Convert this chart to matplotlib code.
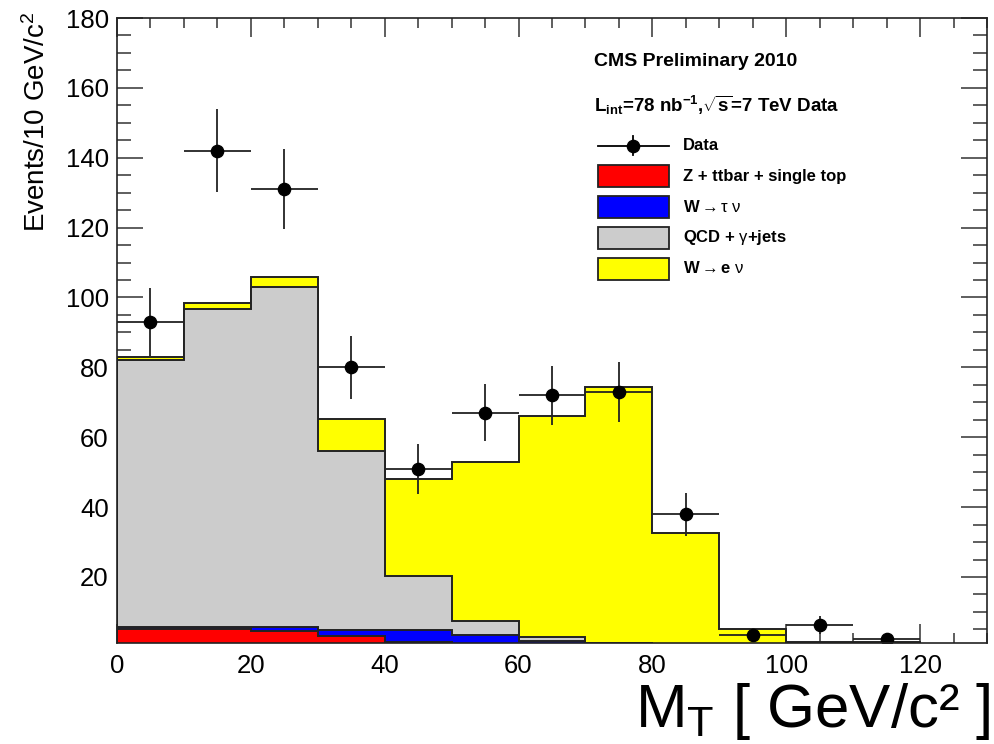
import numpy as np
import matplotlib
matplotlib.use("Agg")
import matplotlib.pyplot as plt
from matplotlib.patches import Rectangle
from matplotlib.lines import Line2D
from matplotlib.ticker import MultipleLocator

plt.rcParams['font.family'] = ['Liberation Sans', 'DejaVu Sans']
plt.rcParams['mathtext.fontset'] = 'custom'
plt.rcParams['mathtext.rm'] = 'Liberation Sans'
plt.rcParams['mathtext.it'] = 'Liberation Sans:italic'
plt.rcParams['mathtext.bf'] = 'Liberation Sans:bold'
plt.rcParams['mathtext.sf'] = 'Liberation Sans'

# ---------------- data ----------------
bin_edges = [0, 10, 20, 30, 40, 50, 60, 70, 80, 90, 100, 110, 120, 130]

# stacked MC components (per bin, not cumulative)
z_ttbar_top = [5.1, 5.1, 4.5, 3.1, 1.5, 0.6, 0.3, 0.1, 0.0, 0.0, 0.0, 0.0, 0.0]
w_taunu     = [0.7, 0.7, 1.1, 1.7, 3.3, 2.8, 1.4, 0.7, 0.2, 0.0, 0.0, 0.0, 0.0]
qcd_gjets   = [76.4, 91.0, 97.4, 51.4, 15.5, 4.1, 1.2, 0.2, 0.2, 0.1, 0.0, 0.0, 0.0]
w_enu       = [0.9, 1.5, 3.0, 9.1, 27.8, 45.5, 63.1, 73.5, 32.3, 4.9, 1.35, 1.45, 0.0]

data_x = [5, 15, 25, 35, 45, 55, 65, 75, 85, 95, 105, 115]
data_y = [93, 142, 131, 80, 51, 67, 72, 73, 38, 3.5, 6.3, 2.2]

x_ticks = [0, 20, 40, 60, 80, 100, 120]
y_ticks = [20, 40, 60, 80, 100, 120, 140, 160, 180]

# ---------------- figure ----------------
W, H = 995, 744
fig = plt.figure(figsize=(W / 100, H / 100), dpi=100)
fig.patch.set_facecolor('white')

def fx(px):
    return px / W

def fy(py):
    return 1 - py / H

ax = fig.add_axes([fx(117), fy(643), (987 - 117) / W, (643 - 18) / H])

edges = np.array(bin_edges, dtype=float)
c1 = np.array(z_ttbar_top)
c2 = c1 + np.array(w_taunu)
c3 = c2 + np.array(qcd_gjets)
c4 = c3 + np.array(w_enu)

col_red, col_blue, col_grey, col_yel = '#ff0000', '#0000ff', '#cccccc', '#ffff00'
edge_col = '#222222'
lw_h = 1.4
for cum, col in [(c4, col_yel), (c3, col_grey), (c2, col_blue), (c1, col_red)]:
    ax.stairs(cum, edges, baseline=0, fill=True, facecolor=col,
              edgecolor=edge_col, linewidth=lw_h, zorder=2)

dx = np.array(data_x, dtype=float)
dy = np.array(data_y, dtype=float)
xerr = np.diff(edges)[:len(dx)] / 2
ax.errorbar(dx, dy, xerr=xerr, yerr=np.sqrt(dy), fmt='o', color='black',
            ms=8.8, ecolor='#222222', elinewidth=1.3, capsize=0, zorder=5)

ax.set_xlim(0, 130)
ax.set_ylim(1.1, 180)
ax.set_xticks(x_ticks)
ax.set_yticks(y_ticks)
ax.xaxis.set_minor_locator(MultipleLocator(5))
ax.yaxis.set_minor_locator(MultipleLocator(5))
ax.tick_params(axis='both', which='both', direction='in', top=True, right=True,
               color='#333333', width=1.1, labelsize=18.5, labelcolor='black')
ax.tick_params(axis='x', which='major', length=13.5, pad=8)
ax.tick_params(axis='x', which='minor', length=7)
ax.tick_params(axis='y', which='major', length=18.5, pad=6)
ax.tick_params(axis='y', which='minor', length=10)
for sp in ax.spines.values():
    sp.set_linewidth(1.2)
    sp.set_color('#222222')
    sp.set_zorder(6)

# axis titles
fig.text(fx(37), fy(12), 'Events/10 GeV/c$^{2}$', rotation=90, ha='center',
         va='top', fontsize=20)
fig.text(fx(991), fy(727), 'M$_{\\mathrm{T}}$ [ GeV/c² ]', ha='right',
         va='baseline', fontsize=44.5)

# legend / annotations
fig.text(fx(594), fy(61), 'CMS Preliminary 2010', ha='left', va='center',
         fontsize=14, fontweight='bold')
fig.text(fx(594), fy(105),
         'L$_{\\mathbf{int}}$=78 nb$^{\\mathbf{-1}}$,$\\sqrt{\\mathbf{s}}$=7 TeV Data',
         ha='left', va='center', fontsize=13.5, fontweight='bold')

# Data entry
yd = 146
fig.add_artist(Line2D([fx(598), fx(669)], [fy(yd), fy(yd)], color='black', lw=1.3,
                      transform=fig.transFigure))
fig.add_artist(Line2D([fx(633), fx(633)], [fy(yd - 10), fy(yd + 9)], color='black', lw=1.3,
                      transform=fig.transFigure))
fig.add_artist(Line2D([fx(633)], [fy(yd)], marker='o', ms=8.8, color='black',
                      transform=fig.transFigure))
fig.text(fx(683), fy(yd), 'Data', ha='left', va='center', fontsize=12,
         fontweight='bold')

entries = [
    (176, col_red, 'Z + ttbar + single top'),
    (206.5, col_blue, 'W$\\rightarrow\\mathrm{\\tau}\\;\\mathrm{\\nu}$'),
    (237.5, col_grey, 'QCD + $\\mathrm{\\gamma}$+jets'),
    (268.5, col_yel, 'W$\\rightarrow$e $\\mathrm{\\nu}$'),
]
for yc, col, lab in entries:
    fig.add_artist(Rectangle((fx(598), fy(yc + 11)), (669 - 598) / W, 22 / H,
                             facecolor=col, edgecolor=edge_col, lw=1.3,
                             transform=fig.transFigure))
    fig.text(fx(683), fy(yc), lab, ha='left', va='center', fontsize=12,
             fontweight='bold')

fig.savefig('out.png', dpi=100)
